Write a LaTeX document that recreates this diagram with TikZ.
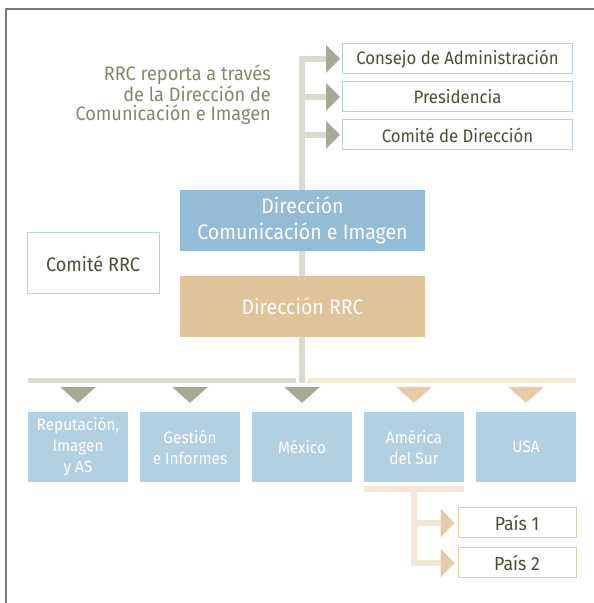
\documentclass[tikz,border=0pt]{standalone}
\usepackage{fontspec}
\setmainfont{Fira Sans}[FakeStretch=0.93]
\usetikzlibrary{arrows.meta,backgrounds}

\definecolor{frameGray}{HTML}{7A7A7A}
\definecolor{lineGray}{HTML}{DADBD0}
\definecolor{triGray}{HTML}{A8A897}
\definecolor{lineTan}{HTML}{F3E8D8}
\definecolor{triTan}{HTML}{E6CBA4}
\definecolor{boxBlue}{HTML}{B8D3E7}
\definecolor{dciBlue}{HTML}{94BCD6}
\definecolor{unitBlue}{HTML}{B3CFE2}
\definecolor{rrcTan}{HTML}{DFC49A}
\definecolor{textDark}{HTML}{4E4E38}
\definecolor{textNote}{HTML}{86866F}

\tikzset{
  grayhead/.tip={Triangle[length=14pt,width=28pt,line width=0pt,color=triGray,fill=triGray]},
  tanhead/.tip={Triangle[length=14pt,width=29pt,line width=0pt,color=triTan,fill=triTan]},
  grayline/.style={draw=lineGray,line width=6pt},
  tanline/.style={draw=lineTan,line width=6pt},
  topbox/.style={draw=boxBlue,line width=1pt,fill=white,text=textDark,
    minimum width=230pt,minimum height=30pt,inner sep=0pt,
    font=\fontsize{18}{20}\selectfont},
  bigbox/.style={minimum width=245pt,minimum height=61pt,inner sep=0pt,
    text=white,align=center,font=\fontsize{21}{26}\selectfont},
  unitbox/.style={fill=unitBlue,minimum width=100pt,minimum height=70pt,
    inner sep=0pt,text=white,align=center,font=\fontsize{16.5}{21}\selectfont},
  paisbox/.style={draw=triTan,line width=1pt,fill=white,text=textDark,
    minimum width=118pt,minimum height=30pt,inner sep=0pt,
    font=\fontsize{19}{20}\selectfont},
}

\begin{document}
\begin{tikzpicture}[x=1pt,y=1pt]
\useasboundingbox (0,0) rectangle (594,603);
\draw[frameGray,line width=1.5pt] (6,0) -- (6,594) -- (594,594);

% reporting line
\node[topbox] (cons) at (457.5,544) {Consejo de Administración};
\node[topbox] (pres) at (457.5,506) {Presidencia};
\node[topbox] (cdir) at (457.5,468) {Comité de Dirección};
\node[anchor=east,align=right,text=textNote,inner sep=0pt,
  font=\fontsize{19.5}{19.5}\selectfont] (note) at (271,508)
  {RRC reporta a través\\de la Dirección de\\Comunicación e Imagen};

\node[bigbox,fill=dciBlue] (dci) at (302.5,382.5) {Dirección\\Comunicación e Imagen};
\node[draw=boxBlue,line width=1pt,fill=white,text=textDark,minimum width=132pt,
  minimum height=61pt,inner sep=0pt,font=\fontsize{19.5}{20}\selectfont]
  (crrc) at (93,339.5) {Comité RRC};
\node[bigbox,fill=rrcTan] (drrc) at (302.5,296.5) {Dirección RRC};

% units
\node[unitbox] (rep) at (78,156) {Reputación,\\Imagen\\y AS};
\node[unitbox] (ges) at (190,156) {Gestión\\e Informes};
\node[unitbox] (mex) at (302,156) {México};
\node[unitbox] (ams) at (414,156) {América\\del Sur};
\node[unitbox] (usa) at (526,156) {USA};

\node[paisbox] (p1) at (517,80) {País 1};
\node[paisbox] (p2) at (517,40) {País 2};

\coordinate (top) at (302,547);
\coordinate (hub) at (302,220);
\coordinate (sub) at ([yshift=-7pt]ams.south);

\begin{scope}[on background layer]
\draw[grayline] (top) -- (hub);
\end{scope}
\draw[grayline,-grayhead,shorten >=2pt] (cons.west -| top) -- (cons.west);
\draw[grayline,-grayhead,shorten >=2pt] (pres.west -| top) -- (pres.west);
\draw[grayline,-grayhead,shorten >=2pt] (cdir.west -| top) -- (cdir.west);

\draw[grayline,line width=5.5pt] (28,222.5) -- (296,222.5);
\draw[tanline,line width=5.5pt] (308,222.5) -- (576,222.5);
\foreach \u/\c in {rep/triGray,ges/triGray,mex/triGray,ams/triTan,usa/triTan}
  \fill[\c] ([shift={(-18,25)}]\u.north) -- ([shift={(18,25)}]\u.north)
    -- ([shift={(0,9)}]\u.north) -- cycle;

\draw[tanline] ([yshift=-7pt]ams.south west) -- ([yshift=-7pt]ams.south east);
\draw[tanline] (sub) -- ([yshift=-3pt]sub |- p2.west);
\draw[tanline,-tanhead,shorten >=3pt] (p1.west -| sub) -- (p1.west);
\draw[tanline,-tanhead,shorten >=3pt] (p2.west -| sub) -- (p2.west);
\end{tikzpicture}
\end{document}
